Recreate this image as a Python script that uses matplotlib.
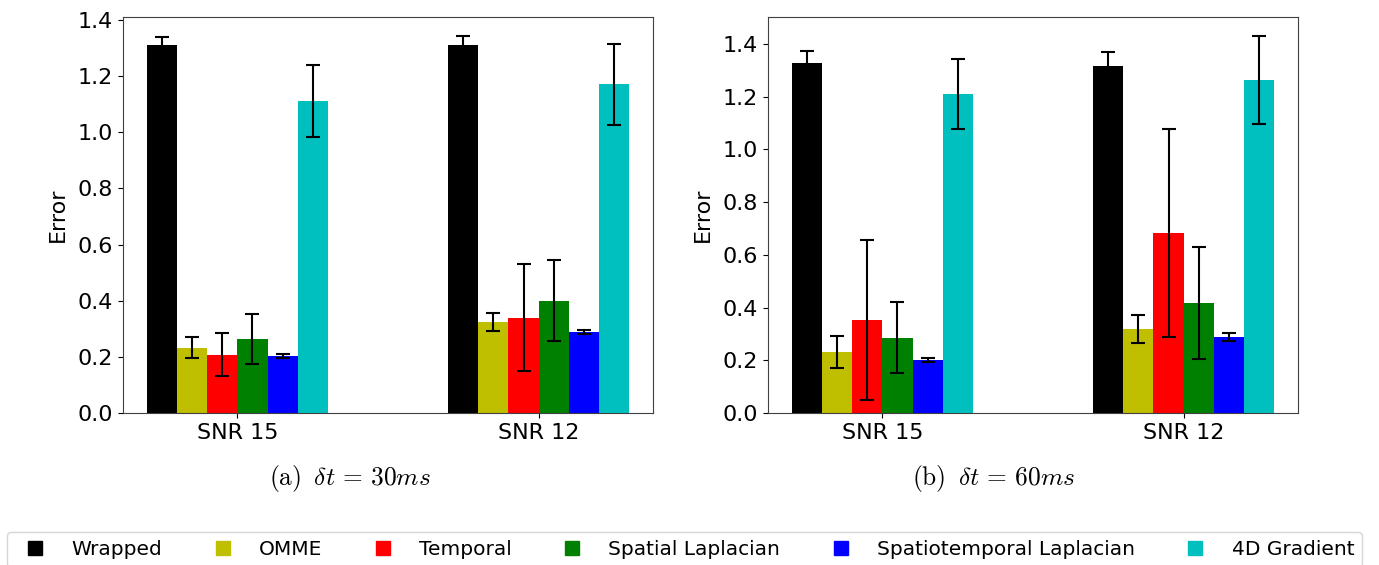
import numpy as np
import matplotlib
matplotlib.use("Agg")
import matplotlib.pyplot as plt
from matplotlib.lines import Line2D

plt.rcParams["mathtext.fontset"] = "cm"

groups = ["SNR 15", "SNR 12"]
methods = ["Wrapped", "OMME", "Temporal", "Spatial Laplacian",
           "Spatiotemporal Laplacian", "4D Gradient"]
colors = ["k", "y", "r", "g", "b", "c"]

# dt = 30 ms: mean error per method, rows follow `methods`, columns follow `groups`
mean_30 = [[1.312, 1.309],
           [0.233, 0.325],
           [0.207, 0.340],
           [0.264, 0.400],
           [0.202, 0.290],
           [1.110, 1.171]]
std_30 = [[0.026, 0.034],
          [0.038, 0.032],
          [0.077, 0.190],
          [0.090, 0.144],
          [0.007, 0.007],
          [0.128, 0.144]]

# dt = 60 ms
mean_60 = [[1.328, 1.315],
           [0.231, 0.320],
           [0.353, 0.683],
           [0.285, 0.417],
           [0.200, 0.287],
           [1.209, 1.263]]
std_60 = [[0.043, 0.052],
          [0.061, 0.053],
          [0.303, 0.394],
          [0.134, 0.212],
          [0.008, 0.015],
          [0.134, 0.167]]

captions = [r"$\mathrm{(a)}\;\;\delta t\,=\,30ms$",
            r"$\mathrm{(b)}\;\;\delta t\,=\,60ms$"]

W, H = 1379, 565
fig = plt.figure(figsize=(W / 100, H / 100), dpi=100)

axes_px = [(123, 17, 653, 413), (768, 17, 1298, 413)]
caption_px = [(350, 478), (994, 478)]

bar_w = 0.1
x = np.arange(len(groups))

for (x0, y0, x1, y1), means, stds, cap, (cx, cy) in zip(
        axes_px, [mean_30, mean_60], [std_30, std_60], captions, caption_px):
    ax = fig.add_axes([x0 / W, 1 - y1 / H, (x1 - x0) / W, (y1 - y0) / H])
    n = len(methods)
    for i, (m, s, c) in enumerate(zip(means, stds, colors)):
        offs = (i - (n - 1) / 2) * bar_w
        ax.bar(x + offs, m, bar_w, yerr=s, color=c, capsize=5,
               error_kw=dict(elinewidth=1.5, capthick=1.5, ecolor="k"))
    ax.set_xticks(x)
    ax.set_xticklabels(groups)
    ax.set_yticks(np.arange(0, 1.41, 0.2))
    ax.tick_params(labelsize=16)
    ax.set_ylabel("Error", fontsize=16, labelpad=7)
    for sp in ax.spines.values():
        sp.set_edgecolor("0.25")
    fig.text(cx / W, 1 - cy / H, cap, ha="center", va="center", fontsize=18.3)

handles = [Line2D([], [], marker="s", linestyle="none", color=c, markersize=10)
           for c in colors]
fig.legend(handles, methods, ncol=6, fontsize=14.5,
           loc="upper left", bbox_to_anchor=(7 / W, 1 - 532 / H),
           borderaxespad=0)

fig.savefig("out.png", dpi=100)
